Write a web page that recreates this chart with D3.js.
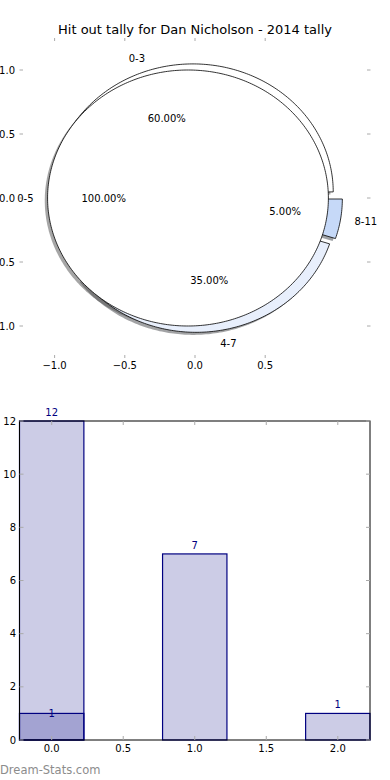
<!DOCTYPE html>
<html>
<head>
<meta charset="utf-8">
<script src="https://cdn.jsdelivr.net/npm/d3@7"></script>
<style>
  body { margin: 0; background: #fff; }
  text { font-family: "DejaVu Sans", sans-serif; }
</style>
</head>
<body>
<script>
// pie data
var outerLabels = ["0-3", "4-7", "8-11"];
var outerValues = [60, 35, 5];
var outerColors = ["#ffffff", "#e8effc", "#c6d9f8"];
var innerLabels = ["0-5"];
var innerValues = [100];
var innerColors = ["#ffffff"];

// bar data
var barPos = [0, 1, 2];
var barTotals = [12, 7, 1];
var barSubset = [1, 0, 0];
var xTicks = [0, 0.5, 1, 1.5, 2];
var yTicks = [0, 2, 4, 6, 8, 10, 12];

var w = 390, h = 780;
var svg = d3.select("body").append("svg").attr("width", w).attr("height", h);

svg.append("text")
    .attr("x", 195).attr("y", 34)
    .attr("text-anchor", "middle")
    .style("font-size", "13px")
    .text("Hit out tally for Dan Nicholson - 2014 tally");

// ---- pie axes ----
var px = d3.scaleLinear().domain([-1.25, 1.25]).range([19.5, 370.5]);
var py = d3.scaleLinear().domain([-1.25, 1.25]).range([358, 38]);
var pie = svg.append("g");

// ticks, no frame
var tickCol = "#aaa";
[-1, -0.5, 0, 0.5].forEach(function(t) {
    pie.append("line").attr("x1", px(t)).attr("x2", px(t)).attr("y1", 38).attr("y2", 41).attr("stroke", tickCol);
    pie.append("line").attr("x1", px(t)).attr("x2", px(t)).attr("y1", 355).attr("y2", 358).attr("stroke", tickCol);
    pie.append("text").attr("x", px(t)).attr("y", 365).attr("dy", "0.35em").attr("text-anchor", "middle")
        .style("font-size", "10px").text(d3.format(".1f")(t).replace("-", "\u2212"));
});
// the minus signs of the lower y labels run off the left edge, as in the original
[-1, -0.5, 0, 0.5, 1].forEach(function(t) {
    pie.append("line").attr("x1", 19.5).attr("x2", 23).attr("y1", py(t)).attr("y2", py(t)).attr("stroke", tickCol);
    pie.append("line").attr("x1", 367).attr("x2", 370.5).attr("y1", py(t)).attr("y2", py(t)).attr("stroke", tickCol);
    pie.append("text").attr("x", 15).attr("y", py(t)).attr("dy", "0.35em").attr("text-anchor", "end")
        .style("font-size", "10px").text(d3.format(".1f")(t).replace("-", "\u2212"));
});

var line = d3.line().x(function(d) { return px(d[0]); }).y(function(d) { return py(d[1]); });

function wedgePts(cx, cy, r, a0, a1) {
    var pts = [];
    var full = (a1 - a0) >= 2 * Math.PI - 1e-6;
    if (!full) pts.push([cx, cy]);
    var n = Math.max(8, Math.ceil((a1 - a0) * 60));
    for (var i = 0; i <= n; i++) {
        var a = a0 + (a1 - a0) * i / n;
        pts.push([cx + r * Math.cos(a), cy + r * Math.sin(a)]);
    }
    return pts;
}

// angles: counter clockwise from east, like matplotlib
var pieGen = d3.pie().sort(null).startAngle(0).endAngle(2 * Math.PI);
var explode = 0.05;

function buildWedges(values, labels, colors) {
    return pieGen(values).map(function(d, i) {
        var mid = (d.startAngle + d.endAngle) / 2;
        return {
            a0: d.startAngle, a1: d.endAngle, mid: mid,
            cx: explode * Math.cos(mid), cy: explode * Math.sin(mid),
            label: labels[i], color: colors[i],
            pct: d.value / d3.sum(values) * 100
        };
    });
}
var outer = buildWedges(outerValues, outerLabels, outerColors);
var inner = buildWedges(innerValues, innerLabels, innerColors);
var all = outer.concat(inner);

// shadows sit under every wedge
all.forEach(function(d) {
    var c = d3.rgb(d.color);
    pie.append("path")
        .attr("d", line(wedgePts(d.cx - 0.02, d.cy - 0.02, 1, d.a0, d.a1)) + "Z")
        .attr("fill", d3.rgb(c.r * 0.3, c.g * 0.3, c.b * 0.3))
        .attr("fill-opacity", 0.5);
});
all.forEach(function(d) {
    pie.append("path")
        .attr("d", line(wedgePts(d.cx, d.cy, 1, d.a0, d.a1)) + "Z")
        .attr("fill", d.color)
        .attr("stroke", "#000")
        .attr("stroke-width", 0.8)
        .attr("stroke-linejoin", "round");
});
all.forEach(function(d) {
    var lx = d.cx + 1.1 * Math.cos(d.mid), ly = d.cy + 1.1 * Math.sin(d.mid);
    pie.append("text")
        .attr("x", px(lx)).attr("y", py(ly)).attr("dy", "0.35em")
        .attr("text-anchor", lx > 0 ? "start" : "end")
        .style("font-size", "10px").text(d.label);
    var tx = d.cx + 0.6 * Math.cos(d.mid), ty = d.cy + 0.6 * Math.sin(d.mid);
    pie.append("text")
        .attr("x", px(tx)).attr("y", py(ty)).attr("dy", "0.35em")
        .attr("text-anchor", "middle")
        .style("font-size", "10px").text(d.pct.toFixed(2) + "%");
});

// ---- bar axes ----
var bw = 0.45;
var bx = d3.scaleLinear().domain([-0.225, 2.225]).range([19.5, 370]);
var by = d3.scaleLinear().domain([0, 12]).range([740, 421]);
var bars = svg.append("g");
var navy = "#000080";

bars.selectAll("rect.tot").data(barTotals).enter().append("rect")
    .attr("x", function(d, i) { return bx(barPos[i] - bw / 2); })
    .attr("width", function() { return bx(bw) - bx(0); })
    .attr("y", function(d) { return by(d); })
    .attr("height", function(d) { return by(0) - by(d); })
    .attr("fill", navy).attr("fill-opacity", 0.2)
    .attr("stroke", navy).attr("stroke-width", 1.2);

bars.selectAll("rect.sub").data(barSubset).enter().append("rect")
    .attr("x", function(d, i) { return bx(barPos[i] - bw / 2); })
    .attr("width", function() { return bx(bw) - bx(0); })
    .attr("y", function(d) { return by(d); })
    .attr("height", function(d) { return by(0) - by(d); })
    .attr("fill", navy).attr("fill-opacity", function(d) { return d > 0 ? 0.2 : 0; })
    .attr("stroke", navy).attr("stroke-width", 1.2)
    .attr("stroke-opacity", function(d) { return d > 0 ? 1 : 0; });

bars.selectAll("text.tot").data(barTotals).enter().append("text")
    .attr("x", function(d, i) { return bx(barPos[i]); })
    .attr("y", function(d) { return by(d) - 5; })
    .attr("text-anchor", "middle").attr("fill", navy)
    .style("font-size", "10px").text(function(d) { return d; });

bars.selectAll("text.sub").data(barSubset.filter(function(d) { return d > 0; })).enter().append("text")
    .attr("x", function(d, i) { return bx(barPos[i]); })
    .attr("y", function(d) { return by(d) + 4; })
    .attr("text-anchor", "middle").attr("fill", navy)
    .style("font-size", "10px").text(function(d) { return d; });

// frame
bars.append("rect").attr("x", 19.5).attr("y", 421).attr("width", 350.5).attr("height", 319)
    .attr("fill", "none").attr("stroke", "#000").attr("stroke-width", 1);

xTicks.forEach(function(t) {
    bars.append("line").attr("x1", bx(t)).attr("x2", bx(t)).attr("y1", 740).attr("y2", 736).attr("stroke", tickCol);
    bars.append("line").attr("x1", bx(t)).attr("x2", bx(t)).attr("y1", 421).attr("y2", 425).attr("stroke", tickCol);
    bars.append("text").attr("x", bx(t)).attr("y", 748).attr("dy", "0.35em").attr("text-anchor", "middle")
        .style("font-size", "10px").text(d3.format(".1f")(t));
});
yTicks.forEach(function(t) {
    bars.append("line").attr("x1", 19.5).attr("x2", 23.5).attr("y1", by(t)).attr("y2", by(t)).attr("stroke", tickCol);
    bars.append("line").attr("x1", 366).attr("x2", 370).attr("y1", by(t)).attr("y2", by(t)).attr("stroke", tickCol);
    bars.append("text").attr("x", 16).attr("y", by(t)).attr("dy", "0.35em").attr("text-anchor", "end")
        .style("font-size", "10px").text(t);
});

svg.append("text")
    .attr("x", 0).attr("y", 774)
    .attr("fill", "#8c8c8c")
    .style("font-size", "11.5px")
    .text("Dream-Stats.com");
</script>
</body>
</html>
